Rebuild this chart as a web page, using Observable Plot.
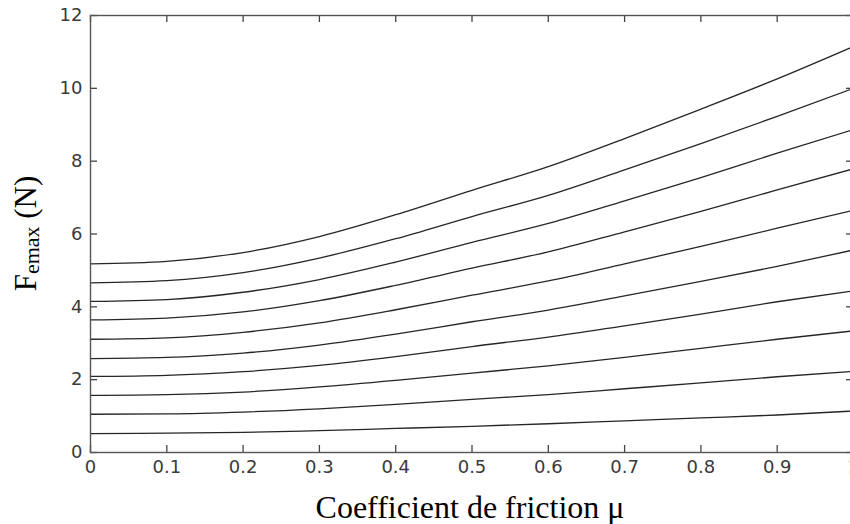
<!DOCTYPE html>
<html><head><meta charset="utf-8">
<script src="https://cdn.jsdelivr.net/npm/d3@7"></script>
<script src="https://cdn.jsdelivr.net/npm/@observablehq/plot@0.6"></script>
<style>html,body{margin:0;padding:0;background:#fff} svg{display:block}</style>
</head><body><div id="chart"></div>
<script>
// friction coefficient values (x)
const mu = [0, 0.1, 0.2, 0.3, 0.4, 0.5, 0.6, 0.7, 0.8, 0.9, 1.0];
// F_emax curves (N), bottom to top
const F1  = [0.52, 0.53, 0.55, 0.60, 0.66, 0.72, 0.79, 0.87, 0.95, 1.03, 1.14];
const F2  = [1.05, 1.06, 1.11, 1.20, 1.32, 1.46, 1.59, 1.75, 1.91, 2.08, 2.23];
const F3  = [1.57, 1.59, 1.66, 1.80, 1.98, 2.18, 2.38, 2.61, 2.86, 3.11, 3.34];
const F4  = [2.09, 2.12, 2.22, 2.39, 2.63, 2.91, 3.17, 3.48, 3.80, 4.14, 4.44];
const F5  = [2.58, 2.61, 2.73, 2.95, 3.25, 3.59, 3.91, 4.30, 4.70, 5.11, 5.56];
const F6  = [3.11, 3.15, 3.30, 3.56, 3.92, 4.32, 4.71, 5.18, 5.66, 6.16, 6.65];
const F7  = [3.64, 3.69, 3.86, 4.17, 4.59, 5.06, 5.51, 6.06, 6.62, 7.21, 7.79];
const F8  = [4.15, 4.20, 4.40, 4.75, 5.23, 5.77, 6.29, 6.91, 7.55, 8.22, 8.87];
const F9  = [4.66, 4.72, 4.94, 5.34, 5.87, 6.48, 7.06, 7.76, 8.48, 9.23, 10.00];
const F10 = [5.18, 5.25, 5.49, 5.93, 6.53, 7.20, 7.85, 8.62, 9.43, 10.26, 11.15];

const xTicks = [0, 0.1, 0.2, 0.3, 0.4, 0.5, 0.6, 0.7, 0.8, 0.9, 1];
const xTickLabels = ["0", "0.1", "0.2", "0.3", "0.4", "0.5", "0.6", "0.7", "0.8", "0.9", "1"];
const yTicks = [0, 2, 4, 6, 8, 10, 12];
const yTickLabels = ["0", "2", "4", "6", "8", "10", "12"];
const xLabel = "Coefficient de friction μ";
const yLabelMain = "F";
const yLabelSub = "emax";
const yLabelUnit = " (N)";

const series = [F1, F2, F3, F4, F5, F6, F7, F8, F9, F10];
const rows = series.flatMap((s, i) => s.map((v, j) => ({curve: i, mu: mu[j], F: v})));

const W = 850, H = 524;
const mL = 90, mR = -3, mT = 15, mB = 72;
const frameW = W - mL - mR, frameH = H - mT - mB;
const tickLen = 7;

const plot = Plot.plot({
  width: W, height: H,
  marginLeft: mL, marginRight: mR, marginTop: mT, marginBottom: mB,
  x: {domain: [0, 1]},
  y: {domain: [0, 12]},
  style: {fontFamily: "DejaVu Sans", fontSize: "18px", color: "#3a3a3a", background: "#fff", overflow: "hidden"},
  marks: [
    Plot.line(rows, {x: "mu", y: "F", z: "curve", stroke: "#262626", strokeWidth: 1.3, curve: "monotone-x"}),
    // inward ticks on all four sides
    Plot.ruleX(xTicks, {x: d => d, insetTop: frameH - tickLen, stroke: "#444", strokeWidth: 1.3}),
    Plot.ruleX(xTicks, {x: d => d, insetBottom: frameH - tickLen, stroke: "#444", strokeWidth: 1.3}),
    Plot.ruleY(yTicks, {y: d => d, insetRight: frameW - tickLen, stroke: "#444", strokeWidth: 1.3}),
    Plot.ruleY(yTicks, {y: d => d, insetLeft: frameW - tickLen, stroke: "#444", strokeWidth: 1.3}),
    Plot.frame({stroke: "#555", strokeWidth: 1.4}),
    Plot.axisX(xTicks, {anchor: "bottom", tickSize: 0, tickPadding: 8, tickFormat: d => xTickLabels[xTicks.indexOf(d)], label: null}),
    Plot.axisY(yTicks, {anchor: "left", tickSize: 0, tickPadding: 8, tickFormat: d => yTickLabels[yTicks.indexOf(d)], label: null})
  ]
});
document.getElementById("chart").appendChild(plot);

const svg = d3.select(plot);
svg.append("text")
  .attr("x", 470).attr("y", 518)
  .attr("text-anchor", "middle")
  .style("font-family", "'Liberation Serif', 'Times New Roman', serif")
  .style("font-size", "32px").style("fill", "#000")
  .text(xLabel);

const yl = svg.append("text")
  .attr("transform", "translate(36,233.5) rotate(-90)")
  .attr("text-anchor", "middle")
  .style("font-family", "'Liberation Serif', 'Times New Roman', serif")
  .style("font-size", "31px").style("fill", "#000");
yl.append("tspan").text(yLabelMain);
yl.append("tspan").attr("dy", 3).style("font-size", "22px").text(yLabelSub);
yl.append("tspan").attr("dy", -3).text(yLabelUnit);
</script>
</body></html>
